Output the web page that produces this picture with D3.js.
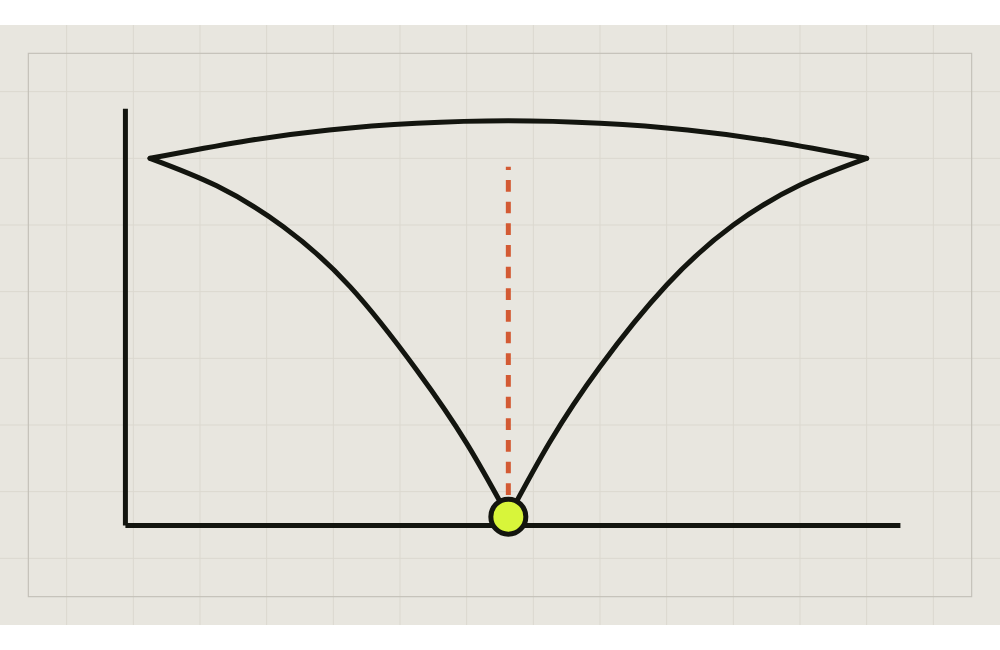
<!DOCTYPE html>
<html>
<head>
<meta charset="utf-8">
<script src="https://cdn.jsdelivr.net/npm/d3@7"></script>
<style>
  html, body { margin: 0; padding: 0; background: #ffffff; }
  body { width: 1000px; height: 650px; overflow: hidden; }
  svg { position: absolute; left: 0; top: 25px; display: block; }
</style>
</head>
<body>
<div id="chart"></div>
<script>
// ---- data ----
const topX   = [-4.3, -3.2, -2.15, -1.1, 0, 1.1, 2.15, 3.2, 4.3];
const topY   = [4.4, 4.6, 4.74, 4.82, 4.85, 4.82, 4.74, 4.6, 4.4];
const leftX  = [-4.3, -3.5, -2.7, -1.9, -1.1, -0.5, 0];
const leftY  = [4.4, 4.07, 3.58, 2.86, 1.86, 0.98, 0.1];
const rightX = [0, 0.5, 1.1, 1.9, 2.7, 3.5, 4.3];
const rightY = [0.1, 1.0, 1.9, 2.88, 3.6, 4.08, 4.4];
const minX = 0, minY = 0.1;       // marked minimum
const guideTopY = 4.3;            // top of dashed guide
const xDomain = [-4.6, 4.7];
const yDomain = [0, 5];

// ---- layout (viewBox units) ----
const VW = 1200, VH = 720;
const margin = {left: 150, right: 120, top: 100, bottom: 120};

const svg = d3.select("#chart").append("svg")
  .attr("width", 1000).attr("height", 600)
  .attr("viewBox", `0 0 ${VW} ${VH}`);

svg.append("rect").attr("width", VW).attr("height", VH).attr("fill", "#e8e6df");

// grid
const grid = svg.append("g").attr("stroke", "#dbd8cf").attr("stroke-width", 1.2);
d3.range(80, VW, 80).forEach(v => grid.append("line").attr("x1", v).attr("x2", v).attr("y1", 0).attr("y2", VH));
d3.range(80, VH, 80).forEach(v => grid.append("line").attr("y1", v).attr("y2", v).attr("x1", 0).attr("x2", VW));

// frame
svg.append("rect").attr("x", 34).attr("y", 34).attr("width", VW - 68).attr("height", VH - 68)
  .attr("fill", "none").attr("stroke", "#c3c0b8").attr("stroke-width", 1.4);

const x = d3.scaleLinear().domain(xDomain).range([margin.left, VW - margin.right]);
const y = d3.scaleLinear().domain(yDomain).range([VH - margin.bottom, margin.top]);

const ink = "#13150f";

// axes
const gx = svg.append("g").attr("transform", `translate(0,${y(0)})`)
  .call(d3.axisBottom(x).tickValues([]).tickSizeOuter(0));
const gy = svg.append("g").attr("transform", `translate(${x(xDomain[0])},0)`)
  .call(d3.axisLeft(y).tickValues([]).tickSizeOuter(0));
[gx, gy].forEach(g => g.select(".domain").attr("stroke", ink).attr("stroke-width", 6));

// curves
const line = d3.line().x(d => x(d[0])).y(d => y(d[1])).curve(d3.curveNatural);
const series = [
  d3.zip(topX, topY),
  d3.zip(leftX, leftY),
  d3.zip(rightX, rightY)
];
svg.append("g").selectAll("path").data(series).join("path")
  .attr("d", line).attr("fill", "none").attr("stroke", ink)
  .attr("stroke-width", 6).attr("stroke-linejoin", "round").attr("stroke-linecap", "round");

// dashed guide (drawn upward from minimum)
svg.append("line")
  .attr("x1", x(minX)).attr("x2", x(minX))
  .attr("y1", y(minY)).attr("y2", y(guideTopY))
  .attr("stroke", "#d35a33").attr("stroke-width", 6)
  .attr("stroke-dasharray", "14 12");

// minimum marker
svg.append("circle").attr("cx", x(minX)).attr("cy", y(minY)).attr("r", 21)
  .attr("fill", "#d8f53a").attr("stroke", ink).attr("stroke-width", 6);
</script>
</body>
</html>
